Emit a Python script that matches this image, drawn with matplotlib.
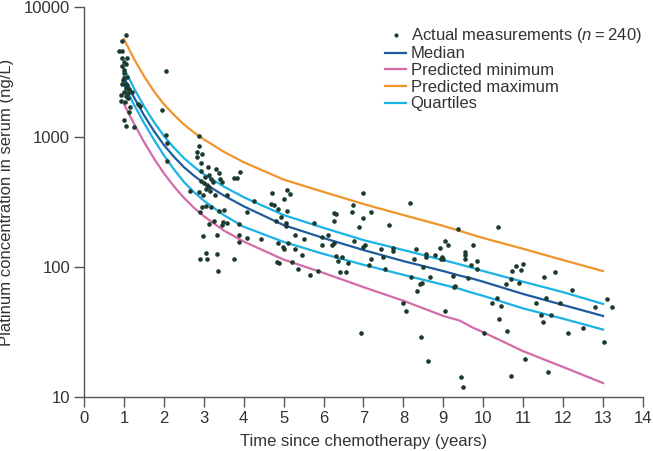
import numpy as np
import matplotlib
matplotlib.use("Agg")
import matplotlib.pyplot as plt
from matplotlib.ticker import FixedLocator, FixedFormatter, NullLocator

plt.rcParams['font.family'] = ['Liberation Sans', 'DejaVu Sans']
plt.rcParams['mathtext.fontset'] = 'custom'
plt.rcParams['mathtext.it'] = 'Liberation Sans:italic'
plt.rcParams['mathtext.rm'] = 'Liberation Sans'

# measured points: time (years), platinum (ng/L)
meas_t = [
    1.05, 0.95, 0.88, 0.95, 0.95, 1.08, 1.00, 1.05, 0.95, 1.00, 1.00, 1.00, 1.08, 0.98,
    0.95, 1.03, 1.08, 1.05, 1.13, 1.00, 1.10, 1.20, 0.93, 1.05, 1.10, 0.93, 1.03, 1.36,
    1.41, 1.15, 1.96, 1.13, 1.00, 1.05, 1.25, 2.06, 2.06, 2.08, 2.08,
    2.89, 2.89, 2.84, 2.96, 2.84, 2.94, 3.11, 3.31, 3.39, 2.94, 3.04, 3.14, 3.19, 2.94,
    3.01, 3.09, 3.24, 3.41, 3.46, 3.76, 3.84, 3.91, 3.14, 3.16, 3.06, 2.89, 2.99, 2.66,
    3.29, 3.59, 4.27, 4.09, 2.96, 2.91, 3.06, 3.19, 3.39, 3.51, 3.26, 3.14, 3.49, 3.46,
    3.59, 3.89, 2.99, 3.34, 3.89, 4.07, 3.89, 3.06, 2.91, 3.09, 3.34, 3.76, 3.36,
    4.72, 5.09, 5.17, 5.02, 4.69, 4.77, 4.87, 5.09, 4.94, 4.82, 5.07, 5.07, 5.77, 6.27,
    6.32, 6.27, 5.29, 5.50, 5.95, 6.12, 5.97, 6.27, 6.22, 4.44, 4.87, 4.99, 5.02, 5.12,
    5.29, 5.47, 6.32, 6.47, 6.37, 6.60, 4.84, 4.89, 5.22, 5.37, 5.85, 5.65, 6.40, 6.55,
    6.98, 6.73, 6.70, 7.00, 6.88, 6.75, 6.98, 7.03, 6.93,
    7.20, 7.20, 7.13, 7.45, 7.50, 7.55, 7.65, 7.75, 7.75, 8.16, 7.98, 8.06, 8.18, 8.26,
    8.31, 8.33, 8.41, 8.46, 8.48, 8.56, 8.56, 8.43, 8.61, 8.66, 8.78, 8.91, 8.96, 8.93,
    8.98, 9.03, 9.11, 9.03, 9.23, 9.28, 9.26, 9.36, 9.54, 9.54, 9.54, 9.61, 9.44, 9.49,
    10.36, 9.74, 9.69, 9.84, 9.84, 10.01, 10.21, 10.34, 10.44, 10.39, 10.59, 10.69,
    10.56, 10.69, 10.72, 10.82, 10.89, 10.94, 10.99, 11.04, 11.32, 11.44, 11.49, 11.57,
    11.52, 11.69, 11.62, 11.79,
    11.92, 12.22, 12.12, 12.50, 12.80, 13.02, 13.10, 13.22,
]
meas_c = [
    6100, 5470, 4590, 4590, 4050, 4050, 3780, 3650, 3520, 3280, 3100, 2840, 2900, 2750,
    2560, 2560, 2510, 2380, 2340, 2220, 2180, 2220, 2100, 2050, 1995, 1890, 1850, 1790,
    1730, 1700, 1610, 1560, 1350, 1215, 1195, 3220, 1036, 900, 653,
    1018, 853, 767, 740, 702, 631, 588, 567, 528, 547, 492, 510, 475, 459,
    443, 427, 451, 475, 451, 484, 484, 538, 412, 384, 398, 378, 358, 384,
    358, 358, 322, 265, 290, 265, 294, 290, 270, 274, 226, 214, 222, 210,
    218, 214, 173, 176, 176, 167, 156, 128, 115, 115, 126, 115, 93,
    371, 391, 365, 333, 305, 300, 279, 270, 242, 226, 218, 207, 218, 260,
    256, 226, 176, 164, 170, 176, 148, 153, 148, 164, 153, 143, 137, 153,
    137, 124, 121, 119, 111, 107, 109, 107, 109, 97, 93, 87, 92, 92,
    371, 300, 265, 238, 203, 158, 143, 148, 31,
    265, 115, 104, 137, 119, 97, 210, 140, 133, 311, 53, 46, 84, 115,
    137, 65, 74, 75, 100, 126, 119, 29, 19, 84, 124, 140, 119, 115,
    115, 158, 148, 46, 85, 71, 70, 196, 130, 124, 115, 82, 14.3, 12,
    203, 148, 104, 111, 97, 31, 53, 58, 50, 40, 32, 14.5,
    74, 81, 93, 102, 75, 95, 105, 19.6, 53, 43, 38, 58,
    84, 43, 15.6, 92,
    53, 67, 31, 34, 49, 26.5, 57, 49,
]

# model curves, read at these times
curve_t = [1, 1.25, 1.5, 1.75, 2, 2.25, 2.5, 2.75, 3, 3.5, 4, 5, 6, 7, 8, 9, 9.4, 9.75, 10, 11, 12, 13]
median = [2894, 2026, 1476, 1114, 869, 706, 587, 505, 442, 355, 293, 210, 167, 135, 111, 93, 86, 81, 77, 62, 51, 42]
pred_min = [1794, 1271, 920, 686, 526, 418, 341, 286, 246, 191, 157, 114, 90, 70, 55, 42, 38.8, 34, 31.5, 22.5, 17, 12.8]
pred_max = [5673, 4000, 2950, 2250, 1790, 1483, 1250, 1086, 960, 770, 640, 470, 378, 305, 251, 207, 190, 176, 167, 138, 113, 93]
q_upper = [3395, 2377, 1730, 1306, 1019, 828, 689, 592, 518, 416, 344, 251, 200, 161, 135, 113, 105, 98, 93, 77, 64, 52]
q_lower = [2512, 1778, 1288, 955, 724, 565, 452, 378, 324, 251, 204, 156, 126, 104, 87, 73, 68, 63, 60, 48, 40, 33]

fig = plt.figure(figsize=(6.53, 4.51), dpi=100)
ax = fig.add_axes([84 / 653, 54 / 451, 559 / 653, 390 / 451])

ax.scatter(meas_t, meas_c, s=11, color='#1d3a2e', linewidths=0, zorder=3,
           label='Actual measurements ($n$\u2009=\u2009240)')
ax.plot(curve_t, median, color='#1f5c9e', lw=1.6, label='Median', zorder=2)
ax.plot(curve_t, pred_min, color='#d46aa8', lw=1.6, label='Predicted minimum', zorder=2)
ax.plot(curve_t, pred_max, color='#f0952a', lw=1.6, label='Predicted maximum', zorder=2)
ax.plot(curve_t, q_upper, color='#1ab3e6', lw=1.6, label='Quartiles', zorder=2)
ax.plot(curve_t, q_lower, color='#1ab3e6', lw=1.6, zorder=2)

ax.set_yscale('log')
ax.set_ylim(10, 10000)
ax.set_xlim(0, 14)
ax.xaxis.set_major_locator(FixedLocator(range(0, 15)))
ax.yaxis.set_major_locator(FixedLocator([10, 100, 1000, 10000]))
ax.yaxis.set_major_formatter(FixedFormatter(['10', '100', '1000', '10000']))
ax.yaxis.set_minor_locator(NullLocator())

for s in ['top', 'right']:
    ax.spines[s].set_visible(False)
for s in ['left', 'bottom']:
    ax.spines[s].set_color('#555555')
    ax.spines[s].set_linewidth(1.0)
ax.tick_params(direction='out', length=7, width=1, color='#555555',
               labelsize=12, labelcolor='#333333', pad=3)

ax.set_xlabel('Time since chemotherapy (years)', fontsize=12, color='#333333', labelpad=6)
ax.set_ylabel('Platinum concentration in serum (ng/L)', fontsize=12, color='#333333', labelpad=7)

leg = ax.legend(loc='upper left', bbox_to_anchor=(0.538, 0.952), frameon=False,
                fontsize=12, handlelength=1.3, handletextpad=0.25, labelspacing=0.1,
                borderpad=0, borderaxespad=0, scatterpoints=1, markerscale=0.9)
for t in leg.get_texts():
    t.set_color('#333333')

fig.savefig('out.png', dpi=100)
